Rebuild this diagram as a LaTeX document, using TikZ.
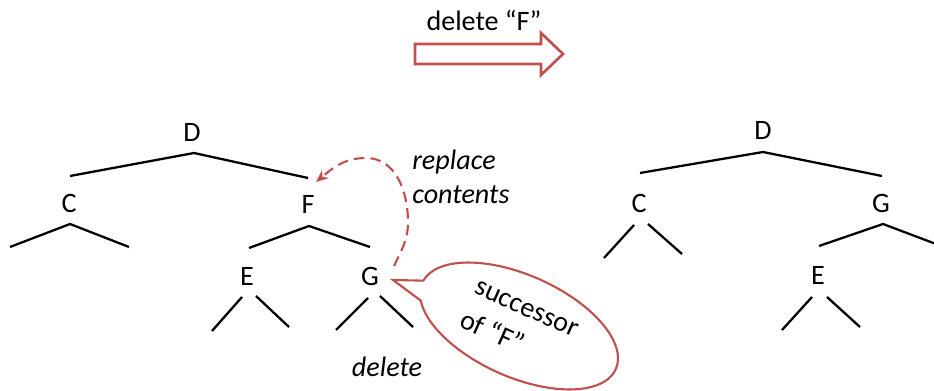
\documentclass[tikz,border=0pt]{standalone}
\usepackage{fontspec}
\setmainfont{Carlito}
\usetikzlibrary{arrows.meta,shapes.callouts}
\definecolor{accent}{RGB}{192,80,77}

\begin{document}
\begin{tikzpicture}[x=0.02cm,y=-0.02cm,font=\fontsize{16}{19}\selectfont,
  key/.style={inner sep=0pt,text height=10.3pt,text depth=0pt},
  edge/.style={black,line width=1.3pt},
  note/.style={font=\fontsize{16}{19}\selectfont\itshape,inner sep=0pt,align=left}]
\useasboundingbox (0,0) rectangle (934,391);
% left tree
\coordinate (dL1) at (70,176);   \coordinate (dL0) at (194,153);  \coordinate (dL2) at (308,178);
\coordinate (cL1) at (10,247);   \coordinate (cL0) at (70,224);   \coordinate (cL2) at (129,247);
\coordinate (fL1) at (249,248);  \coordinate (fL0) at (309,226);  \coordinate (fL2) at (370,247);
\draw[edge] (dL1)--(dL0)--(dL2) (cL1)--(cL0)--(cL2) (fL1)--(fL0)--(fL2);
\draw[edge] (212,331)--(242,297) (256,296)--(289,327);
\draw[edge] (336,330)--(368,298) (380,296)--(413,327);
% right tree
\coordinate (dR1) at (640,173);  \coordinate (dR0) at (763,152);  \coordinate (dR2) at (882,176);
\coordinate (gR1) at (819,246);  \coordinate (gR0) at (883,224);  \coordinate (gR2) at (936,244);
\draw[edge] (dR1)--(dR0)--(dR2) (gR1)--(gR0)--(gR2);
\draw[edge] (604,258)--(634,225) (648,224)--(682,254);
\draw[edge] (782,330)--(812,297) (827,297)--(860,327);
% keys
\node[key] (dL) at (192,132) {D};
\node[key] (cL) at (69,203) {C};
\node[key] (fL) at (308,204) {F};
\node[key] (eL) at (247,276) {E};
\node[key] (gL) at (370,276) {G};
\node[key] (dR) at (763,130) {D};
\node[key] (cR) at (639,203) {C};
\node[key] (gR) at (881,203) {G};
\node[key] (eR) at (818,275) {E};
% big arrow
\coordinate (a1) at (415,44);  \coordinate (a2) at (541,44);  \coordinate (a3) at (541,33);
\coordinate (a4) at (563,54);  \coordinate (a5) at (541,75);  \coordinate (a6) at (541,64);
\coordinate (a7) at (415,64);
\draw[accent,line width=1.5pt,fill=white,line join=miter] (a1)--(a2)--(a3)--(a4)--(a5)--(a6)--(a7)--cycle;
\node (title) at (484,20) {delete “F”};
% moving G up into F
\coordinate (gs) at (394,266);
\coordinate (bend1) at (408,222);
\coordinate (bend2) at (366,158);
\coordinate (ftip) at (316,182);
\draw[accent,line width=1.2pt,dash pattern=on 6pt off 3.5pt,-{Stealth[length=7pt,width=6pt]}]
  (gs) to[out=65,in=-90] (bend1) to[out=90,in=0] (bend2) to[out=180,in=40] (ftip);
\node[note,anchor=west] (replace) at (412,177) {replace\\contents};
\node[note] (del) at (387,367) {delete};
% callout
\coordinate (gtip) at (393,280);
\node[ellipse callout,draw=accent,line width=1.2pt,fill=white,inner sep=0pt,
  minimum width=4.24cm,minimum height=2.04cm,callout pointer arc=22,
  callout absolute pointer=(gtip),rotate=-24,align=left,
  font=\fontsize{16}{21}\selectfont] (succ) at (519,326)
  {successor\\of “F”};
\end{tikzpicture}
\end{document}
